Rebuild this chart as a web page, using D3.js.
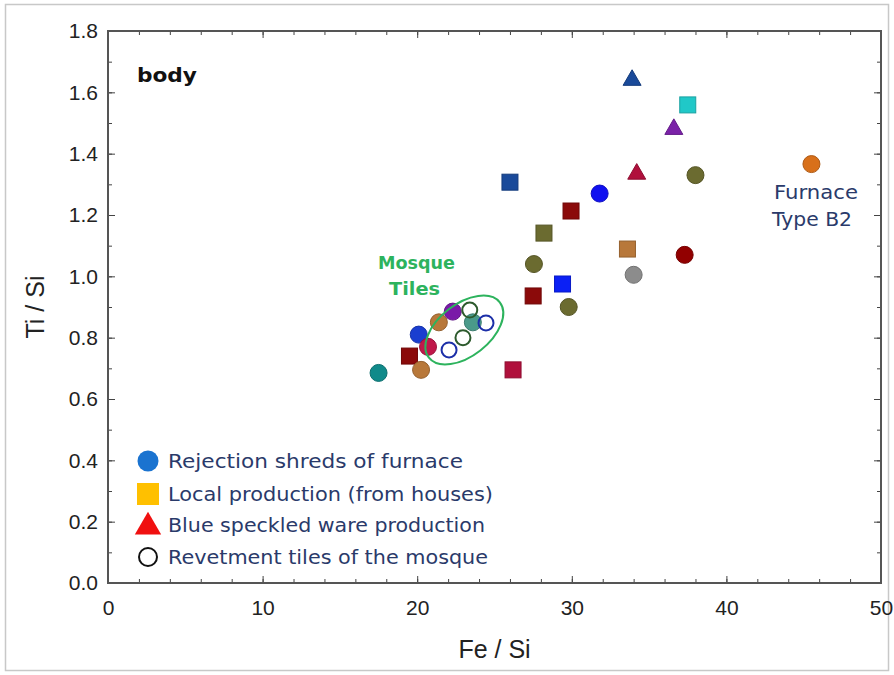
<!DOCTYPE html>
<html><head><meta charset="utf-8">
<script src="https://cdnjs.cloudflare.com/ajax/libs/d3/7.8.5/d3.min.js"></script>
<style>body{margin:0;background:#fff}svg{display:block}</style>
</head><body><svg id="c" width="894" height="675"></svg>
<script>
// ---- data ----
const xTicks = [0,10,20,30,40,50];
const yTicks = [0.0,0.2,0.4,0.6,0.8,1.0,1.2,1.4,1.6,1.8];
// filled circles
const circFe = [17.5,20.25,20.1,20.7,21.4,22.3,23.6,31.8,38.0,37.3,27.55,34.0,29.8,45.5];
const circTi = [0.685,0.695,0.81,0.77,0.85,0.885,0.85,1.27,1.33,1.07,1.04,1.005,0.90,1.366];
const circCol = ["#108a8a","#b8783a","#1a3ed0","#c0184a","#b8783a","#7a1aa8","#4a9a8a","#1010f0","#6b6b30","#920000","#6b6b30","#8c8c8c","#6b6b30","#d8701a"];
// squares
const sqFe = [19.5,26.2,26.0,29.95,28.2,33.6,29.4,27.5,37.5];
const sqTi = [0.74,0.695,1.307,1.213,1.141,1.089,0.975,0.936,1.559];
const sqCol = ["#8b0a0a","#b0103c","#1a4a9a","#8b0a0a","#6b6b30","#b8783a","#0b20f5","#8b0a0a","#20c8c8"];
// triangles
const triFe = [34.2,33.9,36.6];
const triTi = [1.337,1.643,1.483];
const triCol = ["#b0103c","#1a4a9a","#7b22a8"];
// open circles (revetment tiles of the mosque)
const openFe = [23.4,24.45,22.96,22.06];
const openTi = [0.89,0.848,0.80,0.76];
const openCol = ["#2d5a2d","#1c2fa8","#2d5a2d","#1c2fa8"];
// legend
const legendLabels = ["Rejection shreds of furnace","Local production (from houses)","Blue speckled ware production","Revetment tiles of the mosque"];
const legendShapes = ["circle","square","triangle","open"];
const legendColors = ["#1a73d0","#ffc000","#f01010","#111"];

// ---- layout ----
const svg = d3.select("#c");
const L=108,R=881,T=31,B=583;
const x = d3.scaleLinear().domain([0,50]).range([L,R]);
const y = d3.scaleLinear().domain([0,1.8]).range([B,T]);
const comic = "'Comic Sans MS','DejaVu Sans',sans-serif";
const fitText = (sel,len)=>sel.attr("textLength",len).attr("lengthAdjust","spacingAndGlyphs");

svg.append("rect").attr("x",5.5).attr("y",4.5).attr("width",883).attr("height",666)
  .attr("fill","none").attr("stroke","#c8c8c8").attr("stroke-width",1.5);

// axes (ticks inward)
const tickCol="#444";
const xMinor = d3.range(0,50.01,2), yMinor = d3.range(0,1.801,0.1);
const g = svg.append("g");
g.append("g").attr("transform",`translate(0,${B})`)
  .call(d3.axisBottom(x).tickValues(xMinor).tickSize(-4).tickFormat(""));
g.append("g").attr("transform",`translate(0,${B})`)
  .call(d3.axisBottom(x).tickValues(xTicks).tickSize(-7).tickPadding(17).tickFormat(d3.format("d")))
  .call(a=>a.selectAll("text").attr("font-size",21).attr("font-family","Arial,Liberation Sans,sans-serif").attr("fill","#222"));
g.append("g").attr("transform",`translate(0,${T})`)
  .call(d3.axisTop(x).tickValues(xMinor).tickSize(-4).tickFormat(""));
g.append("g").attr("transform",`translate(0,${T})`)
  .call(d3.axisTop(x).tickValues(xTicks).tickSize(-7).tickFormat(""));
g.append("g").attr("transform",`translate(${L},0)`)
  .call(d3.axisLeft(y).tickValues(yMinor).tickSize(-4).tickFormat(""));
g.append("g").attr("transform",`translate(${L},0)`)
  .call(d3.axisLeft(y).tickValues(yTicks).tickSize(-7).tickPadding(10).tickFormat(d3.format(".1f")))
  .call(a=>a.selectAll("text").attr("font-size",21).attr("font-family","Arial,Liberation Sans,sans-serif").attr("fill","#222"));
g.append("g").attr("transform",`translate(${R},0)`)
  .call(d3.axisRight(y).tickValues(yMinor).tickSize(-4).tickFormat(""));
g.append("g").attr("transform",`translate(${R},0)`)
  .call(d3.axisRight(y).tickValues(yTicks).tickSize(-7).tickFormat(""));
g.selectAll(".domain").remove();
g.selectAll("line").attr("stroke",tickCol);
svg.append("rect").attr("x",L).attr("y",T).attr("width",R-L).attr("height",B-T)
  .attr("fill","none").attr("stroke","#555").attr("stroke-width",2);

// axis titles
svg.append("text").attr("x",(L+R)/2).attr("y",658).attr("text-anchor","middle")
  .attr("font-family","Arial,Liberation Sans,sans-serif").attr("font-size",25).attr("fill","#222").text("Fe / Si");
svg.append("text").attr("transform",`translate(44,${(T+B)/2}) rotate(-90)`).attr("text-anchor","middle")
  .attr("font-family","Arial,Liberation Sans,sans-serif").attr("font-size",25).attr("fill","#222").text("Ti / Si");

// "body"
svg.append("text").attr("x",137).attr("y",82).attr("font-family",comic).attr("font-weight","bold")
  .attr("font-size",20).attr("fill","#111").text("body").call(fitText,60);

// ---- marks ----
const pts = svg.append("g");
const darker = c=>d3.color(c).darker(0.6).formatHex();
pts.selectAll(".sq").data(d3.range(sqFe.length)).join("rect")
  .attr("x",i=>x(sqFe[i])-8).attr("y",i=>y(sqTi[i])-8).attr("width",16).attr("height",16)
  .attr("fill",i=>sqCol[i]).attr("stroke",i=>darker(sqCol[i])).attr("stroke-width",1);
pts.selectAll(".ci").data(d3.range(circFe.length)).join("circle")
  .attr("cx",i=>x(circFe[i])).attr("cy",i=>y(circTi[i])).attr("r",8.5)
  .attr("fill",i=>circCol[i]).attr("stroke",i=>darker(circCol[i])).attr("stroke-width",1);
const triPath = d3.symbol().type(d3.symbolTriangle).size(140);
pts.selectAll(".tr").data(d3.range(triFe.length)).join("path")
  .attr("d",triPath).attr("transform",i=>`translate(${x(triFe[i])},${y(triTi[i])+1})`)
  .attr("fill",i=>triCol[i]).attr("stroke",i=>darker(triCol[i])).attr("stroke-width",1);

// ellipse around mosque tiles
svg.append("ellipse").attr("transform",`translate(${x(23.05)},${y(0.825)}) rotate(-38)`)
  .attr("rx",45).attr("ry",26).attr("fill","none").attr("stroke","#2db35d").attr("stroke-width",2);

pts.append("g").selectAll("circle").data(d3.range(openFe.length)).join("circle")
  .attr("cx",i=>x(openFe[i])).attr("cy",i=>y(openTi[i])).attr("r",7.5)
  .attr("fill","none").attr("stroke",i=>openCol[i]).attr("stroke-width",2);

// annotations
svg.append("text").attr("x",378).attr("y",269).attr("font-family",comic)
  .attr("font-weight","bold").attr("font-size",18).attr("fill","#2db35d").text("Mosque").call(fitText,77);
svg.append("text").attr("x",389).attr("y",295).attr("font-family",comic)
  .attr("font-weight","bold").attr("font-size",18).attr("fill","#2db35d").text("Tiles").call(fitText,51);
svg.append("text").attr("x",774).attr("y",199).attr("font-family",comic)
  .attr("font-size",19).attr("fill","#2a3a6a").text("Furnace").call(fitText,84);
svg.append("text").attr("x",772).attr("y",226).attr("font-family",comic)
  .attr("font-size",19).attr("fill","#2a3a6a").text("Type B2").call(fitText,80);

// legend
const leg = svg.append("g");
const legY = [461,494,525,557];
const legW = [295,325,317,320];
legendLabels.forEach((lab,i)=>{
  const gy = legY[i], gx = 148;
  const s = legendShapes[i];
  if(s==="circle") leg.append("circle").attr("cx",gx).attr("cy",gy).attr("r",10.5).attr("fill",legendColors[i]);
  else if(s==="square") leg.append("rect").attr("x",gx-11).attr("y",gy-11).attr("width",22).attr("height",22).attr("fill",legendColors[i]);
  else if(s==="triangle") leg.append("path").attr("d",d3.symbol().type(d3.symbolTriangle).size(300)).attr("transform",`translate(${gx},${gy+2})`).attr("fill",legendColors[i]);
  else leg.append("circle").attr("cx",gx).attr("cy",gy).attr("r",9).attr("fill","none").attr("stroke",legendColors[i]).attr("stroke-width",2);
  leg.append("text").attr("x",168).attr("y",gy+7).attr("font-family",comic).attr("font-size",19)
    .attr("fill","#2a3a6a").text(lab).call(fitText,legW[i]);
});
</script></body></html>
